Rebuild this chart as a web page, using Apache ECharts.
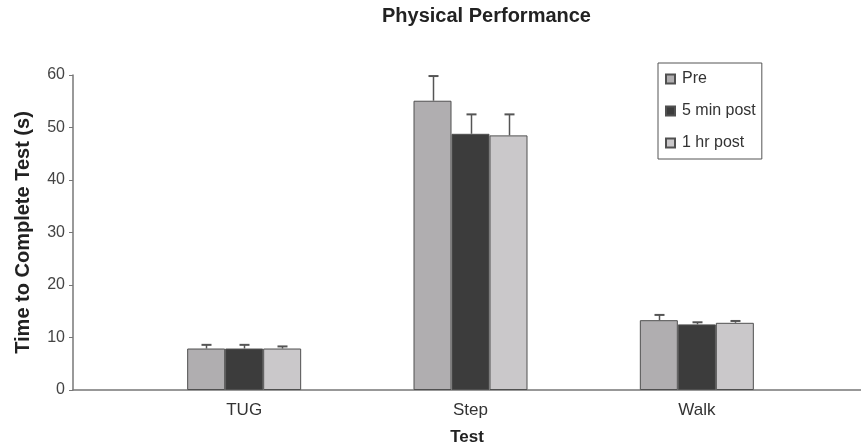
<!DOCTYPE html>
<html>
<head>
<meta charset="utf-8">
<script src="https://cdn.jsdelivr.net/npm/echarts@6/dist/echarts.min.js"></script>
<style>html,body{margin:0;padding:0;background:#fff;}#chart{width:861px;height:447px;}</style>
</head>
<body>
<div id="chart"></div>
<script>
// ---- data ----
const categories = ['TUG', 'Step', 'Walk'];
const seriesNames = ['Pre', '5 min post', '1 hr post'];
const preValues = [7.9, 55.1, 13.3];
const preErrors = [0.7, 4.7, 1.0];
const min5Values = [7.9, 48.8, 12.5];
const min5Errors = [0.7, 3.7, 0.4];
const hr1Values = [7.9, 48.5, 12.8];
const hr1Errors = [0.4, 4.0, 0.35];
const yMin = 0, yMax = 60, yInterval = 10;

// ---- style ----
const FONT = "'Liberation Sans', Arial, sans-serif";
const colors = ['#b0aeb0', '#3c3c3c', '#cac8ca'];
const BAR_W = 38;
const allValues = [preValues, min5Values, hr1Values];
const allErrors = [preErrors, min5Errors, hr1Errors];

const chart = echarts.init(document.getElementById('chart'));

const barSeries = seriesNames.map((name, i) => ({
  name: name,
  type: 'bar',
  xAxisIndex: 1,
  yAxisIndex: 1,
  barWidth: BAR_W,
  barGap: '0%',
  data: allValues[i],
  itemStyle: { color: colors[i], borderColor: '#505050', borderWidth: 1 },
  emphasis: { disabled: true },
  z: 2
}));

const errorSeries = seriesNames.map((name, i) => ({
  name: name + ' err',
  type: 'custom',
  xAxisIndex: 1,
  yAxisIndex: 1,
  z: 3,
  silent: true,
  data: categories.map((c, k) => [k, allValues[i][k], allErrors[i][k]]),
  renderItem: function (params, api) {
    const base = api.coord([api.value(0), api.value(1)]);
    const top = api.coord([api.value(0), api.value(1) + api.value(2)]);
    const x = Math.round(base[0] + (i - 1) * BAR_W) + 0.5;
    const cap = 5;
    return {
      type: 'group',
      children: [
        { type: 'line', shape: { x1: x, y1: base[1], x2: x, y2: top[1] }, style: { stroke: '#555', lineWidth: 1.5 } },
        { type: 'line', shape: { x1: x - cap, y1: top[1], x2: x + cap, y2: top[1] }, style: { stroke: '#555', lineWidth: 2 } }
      ]
    };
  }
}));

chart.setOption({
  animation: false,
  backgroundColor: '#fff',
  title: {
    text: 'Physical Performance',
    left: 377,
    top: 1,
    textStyle: { fontFamily: FONT, fontSize: 20, fontWeight: 'bold', color: '#222' }
  },
  legend: {
    orient: 'vertical',
    left: 658,
    top: 63,
    data: seriesNames,
    icon: 'rect',
    itemWidth: 9,
    itemHeight: 9,
    itemGap: 16,
    padding: [8, 6, 8, 7],
    borderColor: '#555',
    borderWidth: 1,
    selectedMode: false,
    textStyle: { fontFamily: FONT, fontSize: 16, color: '#333', padding: [0, 0, 0, 2] }
  },
  grid: [
    { left: 73, right: 0, top: 75, bottom: 57, outerBoundsMode: 'none' },
    { left: 131, right: 51, top: 75, bottom: 57, outerBoundsMode: 'none' }
  ],
  xAxis: [
    {
      gridIndex: 0, type: 'value', min: 0, max: 1,
      name: 'Test', nameLocation: 'middle', nameGap: 39,
      nameTextStyle: { fontFamily: FONT, fontSize: 17, fontWeight: 'bold', color: '#222' },
      axisLine: { show: true, lineStyle: { color: '#777', width: 1.5 } },
      axisTick: { show: false }, axisLabel: { show: false }, splitLine: { show: false }
    },
    {
      gridIndex: 1, type: 'category', data: categories,
      axisLine: { show: false }, axisTick: { show: false },
      axisLabel: { margin: 12, fontFamily: FONT, fontSize: 17, color: '#333' }
    }
  ],
  yAxis: [
    {
      gridIndex: 0, type: 'value', min: yMin, max: yMax, interval: yInterval,
      name: 'Time to Complete Test (s)', nameLocation: 'middle', nameGap: 40,
      nameTextStyle: { fontFamily: FONT, fontSize: 20, fontWeight: 'bold', color: '#222' },
      axisLine: { show: true, lineStyle: { color: '#777', width: 1.5 } },
      axisTick: { show: true, length: 4, lineStyle: { color: '#777' } },
      axisLabel: { margin: 8, fontFamily: FONT, fontSize: 16, color: '#444' },
      splitLine: { show: false }
    },
    {
      gridIndex: 1, type: 'value', min: yMin, max: yMax, interval: yInterval,
      show: false, splitLine: { show: false }
    }
  ],
  series: barSeries.concat(errorSeries)
});
</script>
</body>
</html>
